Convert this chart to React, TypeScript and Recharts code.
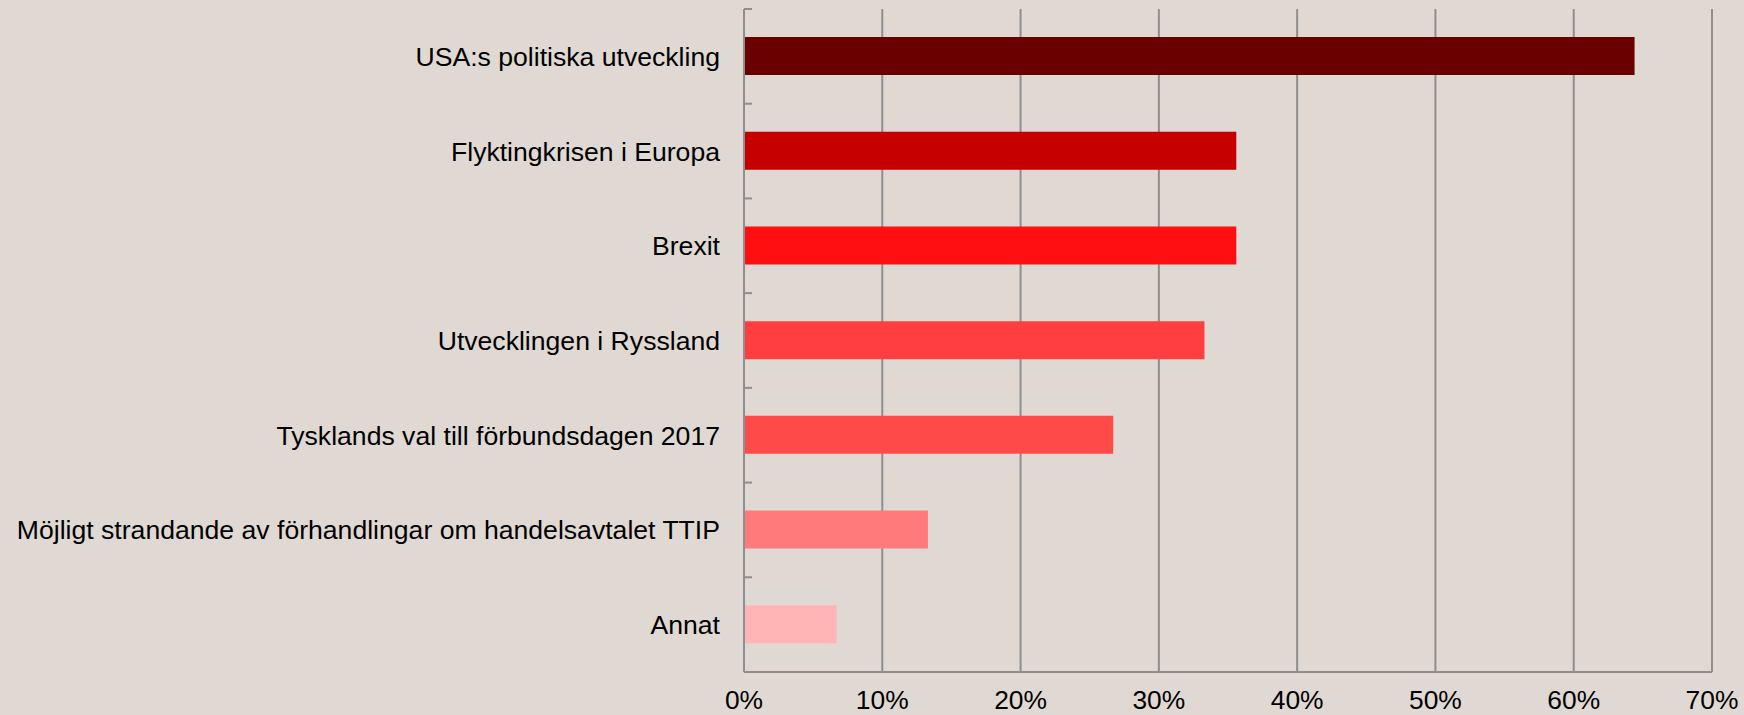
import { BarChart, Bar, XAxis, YAxis, CartesianGrid, Cell } from "recharts";

const categories = [
  "USA:s politiska utveckling",
  "Flyktingkrisen i Europa",
  "Brexit",
  "Utvecklingen i Ryssland",
  "Tysklands val till förbundsdagen 2017",
  "Möjligt strandande av förhandlingar om handelsavtalet TTIP",
  "Annat",
];
const shares = [64.4, 35.6, 35.6, 33.3, 26.7, 13.3, 6.7];
const barColors = ["#6b0000", "#c60000", "#ff0f0f", "#ff3f3f", "#ff4a4a", "#ff7a7a", "#ffb5b5"];
const xTicks = [0, 10, 20, 30, 40, 50, 60, 70];

const data = categories.map((name, i) => ({ name, value: shares[i] }));

const FONT = "'Liberation Sans', Arial, sans-serif";
const GRID = "#8e8e8e";
const LABEL_GAP = 24;
const TICK_LEN = 8;

// category label plus the small divider ticks that sit on the band edges
function CategoryTick(props: any) {
  const { x, y, payload, index, visibleTicksCount } = props;
  const axisX = x + LABEL_GAP;
  const half = payload.offset || 0;
  const isLast = index === visibleTicksCount - 1;
  return (
    <g>
      <line
        x1={axisX}
        x2={axisX + TICK_LEN}
        y1={payload.coordinate - half}
        y2={payload.coordinate - half}
        stroke={GRID}
        strokeWidth={2}
      />
      {isLast && (
        <line
          x1={axisX}
          x2={axisX + TICK_LEN}
          y1={payload.coordinate + half}
          y2={payload.coordinate + half}
          stroke={GRID}
          strokeWidth={2}
        />
      )}
      <text
        x={x}
        y={y}
        dy="0.355em"
        textAnchor="end"
        fontSize={26.6}
        fill="#000"
        fontFamily={FONT}
      >
        {payload.value}
      </text>
    </g>
  );
}

export default function App() {
  return (
    <div
      style={{
        position: "absolute",
        left: 0,
        top: 0,
        width: 1744,
        height: 715,
        background: "#e0d9d3",
        fontFamily: FONT,
      }}
    >
      <BarChart
        width={1744}
        height={715}
        data={data}
        layout="vertical"
        margin={{ top: 9, right: 32, bottom: 0, left: 0 }}
      >
        <CartesianGrid horizontal={false} stroke={GRID} strokeWidth={2} />
        <XAxis
          type="number"
          domain={[0, 70]}
          ticks={xTicks}
          tickFormatter={(v) => `${v}%`}
          interval={0}
          height={43}
          axisLine={{ stroke: GRID, strokeWidth: 2 }}
          tickLine={false}
          tickSize={0}
          tickMargin={18}
          tick={{ fontSize: 26.4, fill: "#000", fontFamily: FONT }}
        />
        <YAxis
          type="category"
          dataKey="name"
          width={744}
          interval={0}
          axisLine={{ stroke: GRID, strokeWidth: 2 }}
          tickLine={false}
          tickSize={0}
          tickMargin={LABEL_GAP}
          tick={<CategoryTick />}
        />
        <Bar dataKey="value" barSize={38} isAnimationActive={false}>
          {data.map((d, i) => (
            <Cell key={d.name} fill={barColors[i]} />
          ))}
        </Bar>
      </BarChart>
    </div>
  );
}
